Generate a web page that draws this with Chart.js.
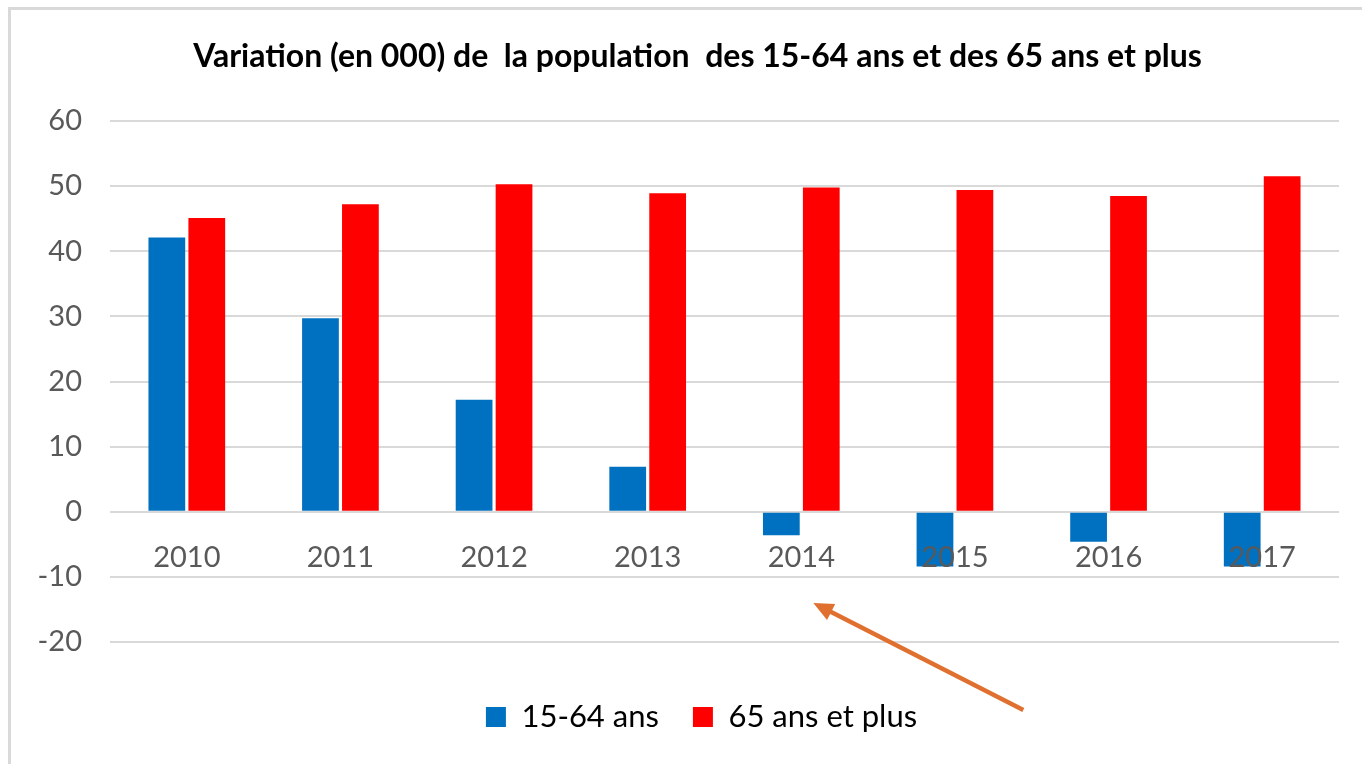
<!DOCTYPE html>
<html>
<head>
<meta charset="utf-8">
<script src="https://cdn.jsdelivr.net/npm/chart.js@4"></script>
<style>
  html, body { margin: 0; padding: 0; background: #fff; overflow: hidden; }
  #frame { position: absolute; left: 8px; top: 7px; width: 1400px; height: 800px; border: 3px solid #d9d9d9; }
  #wrap { position: absolute; left: 0; top: 0; width: 1362px; height: 764px; }
</style>
</head>
<body>
<div id="frame"></div>
<div id="wrap"><canvas id="popChart" width="1362" height="764"></canvas></div>
<script>
const years = ['2010', '2011', '2012', '2013', '2014', '2015', '2016', '2017'];
const actifs = [42.1, 29.7, 17.2, 6.9, -3.6, -8.4, -4.6, -8.4];
const seniors = [45.1, 47.2, 50.3, 48.9, 49.8, 49.4, 48.5, 51.5];
const yTicks = [-20, -10, 0, 10, 20, 30, 40, 50, 60];

const FONT = 'Lato, "Open Sans", sans-serif';

// orange arrow pointing at 2014 (annotation on the picture)
const arrowPlugin = {
  id: 'arrow',
  afterLayout(chart) {
    // title and legend sit a bit right of centre in the original
    chart.legend.left += 64;
    chart.titleBlock.left += 56;
  },
  afterDraw(chart) {
    const c = chart.ctx;
    const x = chart.scales.x.getPixelForValue(4) + 12;
    const y = chart.scales.y.getPixelForValue(-14);
    const tx = x + 210, ty = y + 107;
    const ang = Math.atan2(y - ty, x - tx);
    c.save();
    c.strokeStyle = '#E07030';
    c.fillStyle = '#E07030';
    c.lineWidth = 4.5;
    c.beginPath();
    c.moveTo(tx, ty);
    c.lineTo(x - 14 * Math.cos(ang), y - 14 * Math.sin(ang));
    c.stroke();
    c.beginPath();
    c.moveTo(x, y);
    c.lineTo(x - 20 * Math.cos(ang) + 9 * Math.sin(ang), y - 20 * Math.sin(ang) - 9 * Math.cos(ang));
    c.lineTo(x - 20 * Math.cos(ang) - 9 * Math.sin(ang), y - 20 * Math.sin(ang) + 9 * Math.cos(ang));
    c.closePath();
    c.fill();
    c.restore();
  }
};

const ctx = document.getElementById('popChart').getContext('2d');

const popChart = new Chart(ctx, {
  type: 'bar',
  data: {
    labels: years,
    datasets: [
      {
        label: '15-64 ans',
        data: actifs,
        backgroundColor: '#0070C0',
        categoryPercentage: 0.52,
        barPercentage: 0.92,
      },
      {
        label: '65 ans et plus',
        data: seniors,
        backgroundColor: '#FF0000',
        categoryPercentage: 0.52,
        barPercentage: 0.92,
      },
    ],
  },
  options: {
    responsive: false,
    animation: false,
    layout: {
      padding: { left: 0, right: 23, top: 0, bottom: 21.5 },
    },
    plugins: {
      title: {
        display: true,
        text: 'Variation (en 000) de  la population  des 15-64 ans et des 65 ans et plus',
        color: '#000',
        font: { family: FONT, size: 32, weight: 'bold' },
        padding: { top: 37.8, bottom: 44.8 },
      },
      legend: {
        display: true,
        position: 'bottom',
        title: {
          display: true,
          text: '',
          font: { size: 10 },
          padding: { top: 13.5, bottom: 0 },
        },
        labels: {
          color: '#000',
          font: { family: FONT, size: 31 },
          boxWidth: 20,
          boxHeight: 20,
          padding: 34,
        },
      },
      tooltip: { enabled: false },
    },
    scales: {
      x: {
        position: { y: 0 },
        grid: { display: false, drawTicks: false },
        border: { display: false },
        ticks: {
          z: 1,
          color: '#595959',
          font: { family: FONT, size: 29 },
          padding: 28,
          maxRotation: 0,
        },
      },
      y: {
        min: -20,
        max: 60,
        afterBuildTicks(scale) {
          scale.ticks = yTicks.map(v => ({ value: v }));
        },
        afterFit(scale) {
          scale.width = 110;
        },
        grid: { color: '#d9d9d9', lineWidth: 2, drawTicks: false },
        border: { display: false },
        ticks: {
          color: '#595959',
          font: { family: FONT, size: 29 },
          padding: 28,
        },
      },
    },
  },
  plugins: [arrowPlugin],
});
</script>
</body>
</html>
